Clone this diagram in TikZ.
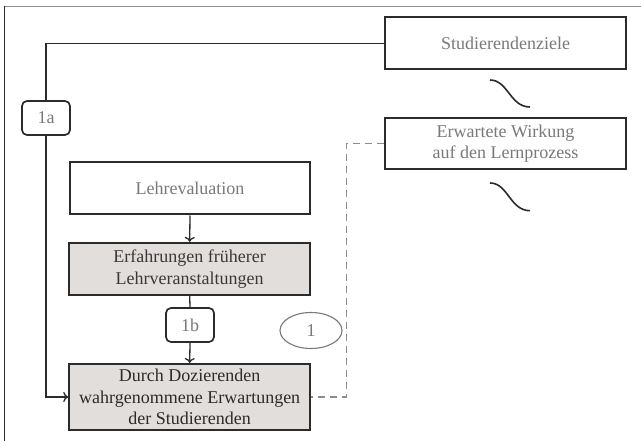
\documentclass[tikz,border=0pt]{standalone}
\usepackage{fontspec}
\setmainfont{Liberation Serif}
\usetikzlibrary{arrows,arrows.meta,shapes.geometric}

\definecolor{boxline}{HTML}{2B2B2B}
\definecolor{boxfill}{HTML}{E2DEDB}
\definecolor{lighttext}{HTML}{7A7878}
\definecolor{darktext}{HTML}{3A3838}
\definecolor{dashgray}{HTML}{8C8C8C}

\begin{document}
\begin{tikzpicture}[x=1pt,y=-1pt,>={To[length=5pt,width=10pt]}]
\tikzstyle{every node}=[font=\fontsize{18}{21.7}\selectfont,inner sep=0pt]
\tikzstyle{whitebox}=[draw=boxline,line width=2pt,minimum width=241pt,minimum height=52pt,text=lighttext,align=center]
\tikzstyle{graybox}=[whitebox,fill=boxfill,text=darktext]
\tikzstyle{tag}=[draw=boxline,line width=1.7pt,rounded corners=5pt,minimum width=48pt,minimum height=34pt,text=lighttext]
\tikzstyle{link}=[draw=boxline,line width=1.3pt]
\useasboundingbox (0,0) rectangle (641,441);
 % frame
 \draw[dashgray,line width=0.8pt] (4,6) -- (641,6);
 \draw[boxline,line width=0.8pt] (4,6) -- (4,441);
 % boxes
 \node[whitebox] (ziele)   at (505.5,43.3)  {Studierendenziele};
 \node[whitebox,minimum height=51pt] (wirkung) at (505.5,143.7) {Erwartete Wirkung\\auf den Lernprozess};
 \node[whitebox,minimum width=240pt] (lehre) at (190,188.5) {Lehrevaluation};
 \node[graybox] (erf)   at (189.7,268.9) {Erfahrungen früherer\\Lehrveranstaltungen};
 \node[graybox,minimum height=66pt,text=boxline] (durch) at (189.7,397) {Durch Dozierenden\\wahrgenommene Erwartungen\\der Studierenden};
 \node[tag] (la) at (46,118) {1a};
 \node[tag] (lb) at (190,325) {1b};
 \node[ellipse,draw=lighttext,line width=1.1pt,minimum width=62pt,minimum height=36pt,text=lighttext] (eins) at (311,330.5) {1};
 \coordinate (knick) at (346.7,143.7);
 % connectors
 \draw[link] (ziele.west) -| (la.north);
 \draw[link] (erf.south) -- (lb.north);
 \draw[->,link] (la.south) |- (durch.west);
 \draw[->,link] (lehre.south) -- (erf.north);
 \draw[->,link] (lb.south) -- (durch.north);
 \draw[dashgray,line width=1.2pt,dash pattern=on 7pt off 5pt]
 (wirkung.west) -- (knick) |- (durch.east);
 % tildes
 \draw[boxline,line width=1.6pt] (490,80) .. controls (508,80) and (510,107) .. (530,107);
 \draw[boxline,line width=1.6pt] (490,183) .. controls (508,183) and (510,210.7) .. (530,210.7);
\end{tikzpicture}
\end{document}
